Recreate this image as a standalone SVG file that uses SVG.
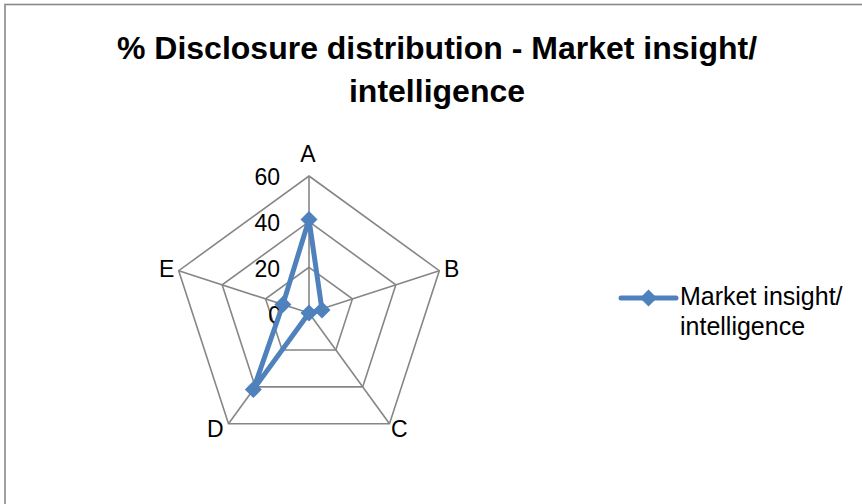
<svg xmlns="http://www.w3.org/2000/svg" width="862" height="504" viewBox="0 0 862 504">
<defs>
<style>
.txt{font-family:"Liberation Sans",Arial,sans-serif;fill:#000}
.title{font-size:32px;font-weight:bold;text-anchor:middle}
.ax{font-size:23px}
.leg{font-size:25px}
.grid{fill:none;stroke:#868686;stroke-width:1.6}
.series{fill:none;stroke:#4F81BD;stroke-width:5;stroke-linejoin:round}
.mk{fill:#4F81BD}
</style>
<path id="dia" d="M0,-8.5 L8.5,0 L0,8.5 L-8.5,0 Z"/>
</defs>
<rect x="0" y="0" width="862" height="504" fill="#fff"/>
<rect x="5" y="4.5" width="880" height="520" fill="#fff" stroke="#888" stroke-width="1.6"/>
<g id="title">
<text class="txt title" x="437" y="59">% Disclosure distribution - Market insight/</text>
<text class="txt title" x="437" y="102">intelligence</text>
</g>
<g id="grid">
<polygon class="grid" points="309,176 439.3,270.7 389.5,423.8 228.5,423.8 178.7,270.7"/>
<polygon class="grid" points="309,221.67 395.86,284.78 362.69,386.89 255.31,386.89 222.14,284.78"/>
<polygon class="grid" points="309,267.33 352.43,298.89 335.84,349.95 282.16,349.95 265.57,298.89"/>
<line class="grid" x1="309" y1="313" x2="309" y2="176"/>
<line class="grid" x1="309" y1="313" x2="439.3" y2="270.7"/>
<line class="grid" x1="309" y1="313" x2="389.5" y2="423.8"/>
<line class="grid" x1="309" y1="313" x2="228.5" y2="423.8"/>
<line class="grid" x1="309" y1="313" x2="178.7" y2="270.7"/>
</g>
<g id="axis-labels">
<text class="txt ax" x="280" y="185" text-anchor="end">60</text>
<text class="txt ax" x="280" y="231" text-anchor="end">40</text>
<text class="txt ax" x="280" y="277" text-anchor="end">20</text>
<text class="txt ax" x="281" y="323" text-anchor="end">0</text>
<text class="txt ax" x="308" y="162" text-anchor="middle">A</text>
<text class="txt ax" x="444" y="277">B</text>
<text class="txt ax" x="391" y="437">C</text>
<text class="txt ax" x="207" y="437">D</text>
<text class="txt ax" x="159" y="277">E</text>
</g>
<g id="series">
<polygon class="series" points="309,219.4 322,310 309,313 253.3,389.6 282.9,304.5"/>
<use href="#dia" class="mk" x="309" y="219.4"/>
<use href="#dia" class="mk" x="322" y="310"/>
<use href="#dia" class="mk" x="309" y="313"/>
<use href="#dia" class="mk" x="253.3" y="389.6"/>
<use href="#dia" class="mk" x="282.9" y="304.5"/>
</g>
<g id="legend">
<line x1="621" y1="298" x2="676" y2="298" stroke="#4F81BD" stroke-width="5" stroke-linecap="round"/>
<use href="#dia" class="mk" x="648.5" y="298"/>
<text class="txt leg" x="680" y="305">Market insight/</text>
<text class="txt leg" x="680" y="335">intelligence</text>
</g>
</svg>
